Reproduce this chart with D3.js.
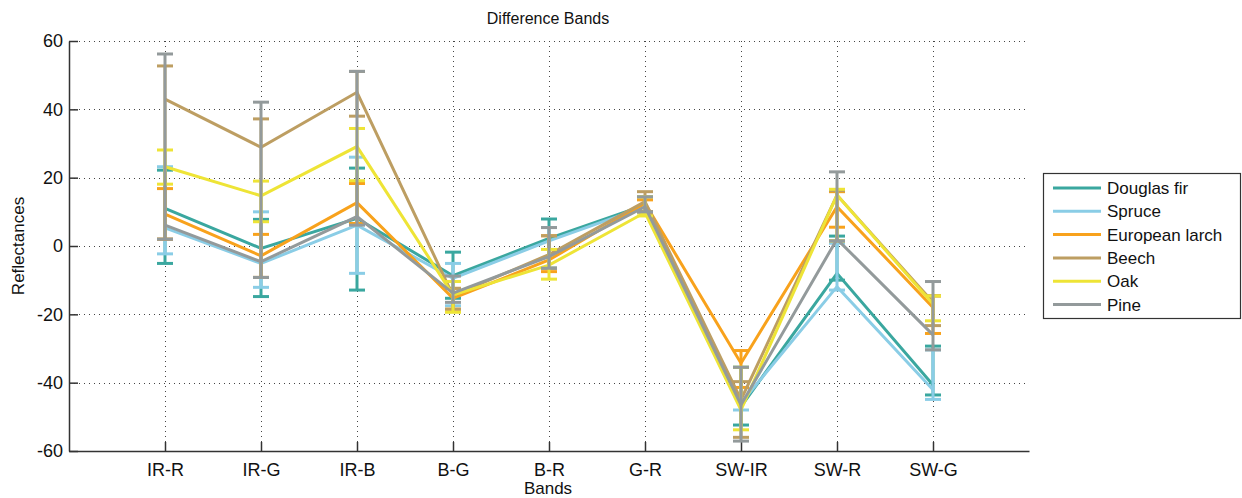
<!DOCTYPE html>
<html>
<head>
<meta charset="utf-8">
<script src="https://cdn.jsdelivr.net/npm/d3@7"></script>
<style>
  body { margin: 0; background: #fff; }
  text { font-family: "Liberation Sans", Arial, sans-serif; fill: #111; }
</style>
</head>
<body>
<script>
// band differences on the x axis
var bands = ["IR-R", "IR-G", "IR-B", "B-G", "B-R", "G-R", "SW-IR", "SW-R", "SW-G"];
var yTicks = [-60, -40, -20, 0, 20, 40, 60];

var speciesNames = ["Douglas fir", "Spruce", "European larch", "Beech", "Oak", "Pine"];
var speciesColors = ["#3aa79f", "#8acde6", "#f8a21c", "#bd9e62", "#eee436", "#939a9b"];

// means, lower and upper error bar ends
var douglasMean  = [11.0, -0.7, 8.1, -8.7, 2.2, 12.0, -47.0, -8.0, -40.7];
var douglasLow   = [-5.1, -14.8, -12.9, -15.3, -6.5, 10.0, -52.4, -10.0, -43.6];
var douglasHigh  = [22.2, 7.8, 22.8, -1.8, 7.9, 14.4, -35.5, 2.9, -29.3];

var spruceMean   = [5.3, -5.1, 6.1, -9.5, 1.5, 11.5, -46.0, -11.9, -42.1];
var spruceLow    = [-2.3, -12.1, -8.0, -17.5, -6.5, 10.0, -48.0, -12.9, -44.9];
var spruceHigh   = [23.2, 10.0, 26.0, -5.1, 5.4, 14.4, -35.5, 0.8, -30.4];

var larchMean    = [9.3, -2.9, 12.7, -15.3, -4.1, 12.5, -34.3, 11.5, -18.0];
var larchLow     = [2.0, -9.2, 6.6, -18.5, -7.5, 10.0, -41.4, 5.5, -25.6];
var larchHigh    = [16.8, 3.4, 18.3, -12.4, 3.0, 13.5, -30.6, 15.9, -14.6];

var beechMean    = [43.0, 28.9, 45.0, -14.5, -2.5, 13.0, -45.0, 14.9, -16.5];
var beechLow     = [2.0, -9.2, 38.0, -18.5, -6.5, 10.0, -56.0, 1.5, -23.3];
var beechHigh    = [52.7, 37.2, 51.1, -12.4, 3.0, 15.9, -39.7, 16.2, -14.6];

var oakMean      = [23.2, 14.7, 29.1, -14.3, -5.6, 9.8, -48.0, 14.9, -17.0];
var oakLow       = [18.1, 7.1, 19.1, -19.4, -9.7, 8.8, -53.8, 1.5, -21.9];
var oakHigh      = [28.1, 19.0, 34.4, -10.4, -1.0, 14.4, -35.5, 16.6, -14.6];

var pineMean     = [6.1, -4.6, 8.6, -13.8, -3.1, 11.5, -46.5, 2.0, -26.0];
var pineLow      = [2.0, -9.2, 6.1, -16.5, -6.5, 10.0, -57.1, 1.5, -30.4];
var pineHigh     = [56.2, 42.1, 51.1, -8.8, 5.4, 14.4, -35.5, 21.7, -10.4];

var means = [douglasMean, spruceMean, larchMean, beechMean, oakMean, pineMean];
var lows  = [douglasLow, spruceLow, larchLow, beechLow, oakLow, pineLow];
var highs = [douglasHigh, spruceHigh, larchHigh, beechHigh, oakHigh, pineHigh];

var W = 1242, H = 498;
var plotLeft = 69, plotRight = 1029, plotTop = 41, plotBottom = 451;

var svg = d3.select("body").append("svg")
    .attr("width", W)
    .attr("height", H);

var x = d3.scalePoint().domain(bands).range([plotLeft, plotRight]).padding(1);
var y = d3.scaleLinear().domain([-60, 60]).range([plotBottom, plotTop]);

// dotted grid
svg.append("g").selectAll("line.hg")
    .data(yTicks.filter(function(d) { return d > -60; }))
  .enter().append("line")
    .attr("x1", plotLeft).attr("x2", plotRight - 4)
    .attr("y1", function(d) { return Math.round(y(d)) + 0.5; })
    .attr("y2", function(d) { return Math.round(y(d)) + 0.5; })
    .attr("stroke", "#444").attr("stroke-width", 1)
    .attr("stroke-dasharray", "1,4");
svg.append("g").selectAll("line.vg")
    .data(bands)
  .enter().append("line")
    .attr("x1", function(d) { return Math.round(x(d)) + 0.5; })
    .attr("x2", function(d) { return Math.round(x(d)) + 0.5; })
    .attr("y1", plotTop).attr("y2", plotBottom)
    .attr("stroke", "#444").attr("stroke-width", 1)
    .attr("stroke-dasharray", "1,4");

// axes, ticks pointing inwards
var yAxis = d3.axisLeft(y).tickValues(yTicks)
    .tickFormat(function(d) { return String(d); })
    .tickSizeInner(-9).tickSizeOuter(0).tickPadding(6);
var gy = svg.append("g").attr("transform", "translate(" + plotLeft + ",0)").call(yAxis);
gy.selectAll("text").style("font-size", "18px");

var xAxis = d3.axisBottom(x).tickSizeInner(-9).tickSizeOuter(0).tickPadding(12);
var gx = svg.append("g").attr("transform", "translate(0," + plotBottom + ")").call(xAxis);
gx.selectAll("text").style("font-size", "18px");

svg.selectAll(".domain, .tick line").attr("stroke", "#333").attr("stroke-width", 1.5);

// series with error bars
var line = d3.line()
    .x(function(d, i) { return x(bands[i]); })
    .y(function(d) { return y(d); });

var capW = 8;
speciesNames.forEach(function(name, s) {
  var g = svg.append("g");
  var col = speciesColors[s];
  bands.forEach(function(b, i) {
    var cx = x(b);
    g.append("line")
      .attr("x1", cx).attr("x2", cx)
      .attr("y1", y(lows[s][i])).attr("y2", y(highs[s][i]))
      .attr("stroke", col).attr("stroke-width", 3);
    [lows[s][i], highs[s][i]].forEach(function(v) {
      g.append("line")
        .attr("x1", cx - capW).attr("x2", cx + capW)
        .attr("y1", y(v)).attr("y2", y(v))
        .attr("stroke", col).attr("stroke-width", 3);
    });
  });
  g.append("path")
    .datum(means[s])
    .attr("d", line)
    .attr("fill", "none")
    .attr("stroke", col)
    .attr("stroke-width", 3)
    .attr("stroke-linejoin", "miter");
});

// titles
svg.append("text")
    .attr("x", 548).attr("y", 24)
    .attr("text-anchor", "middle")
    .style("font-size", "16px")
    .text("Difference Bands");
svg.append("text")
    .attr("x", 548).attr("y", 494)
    .attr("text-anchor", "middle")
    .style("font-size", "17px")
    .text("Bands");
svg.append("text")
    .attr("transform", "translate(24," + 246 + ") rotate(-90)")
    .attr("text-anchor", "middle")
    .style("font-size", "17px")
    .text("Reflectances");

// legend
var lg = svg.append("g").attr("transform", "translate(1043,173)");
lg.append("rect")
    .attr("x", 0.5).attr("y", 0.5)
    .attr("width", 197).attr("height", 145)
    .attr("fill", "#fff").attr("stroke", "#333").attr("stroke-width", 1.2);
speciesNames.forEach(function(name, s) {
  var cy = 15 + s * 23.3;
  lg.append("line")
    .attr("x1", 10).attr("x2", 58)
    .attr("y1", cy).attr("y2", cy)
    .attr("stroke", speciesColors[s]).attr("stroke-width", 3);
  lg.append("text")
    .attr("x", 64).attr("y", cy + 6)
    .style("font-size", "17px")
    .text(name);
});
</script>
</body>
</html>
